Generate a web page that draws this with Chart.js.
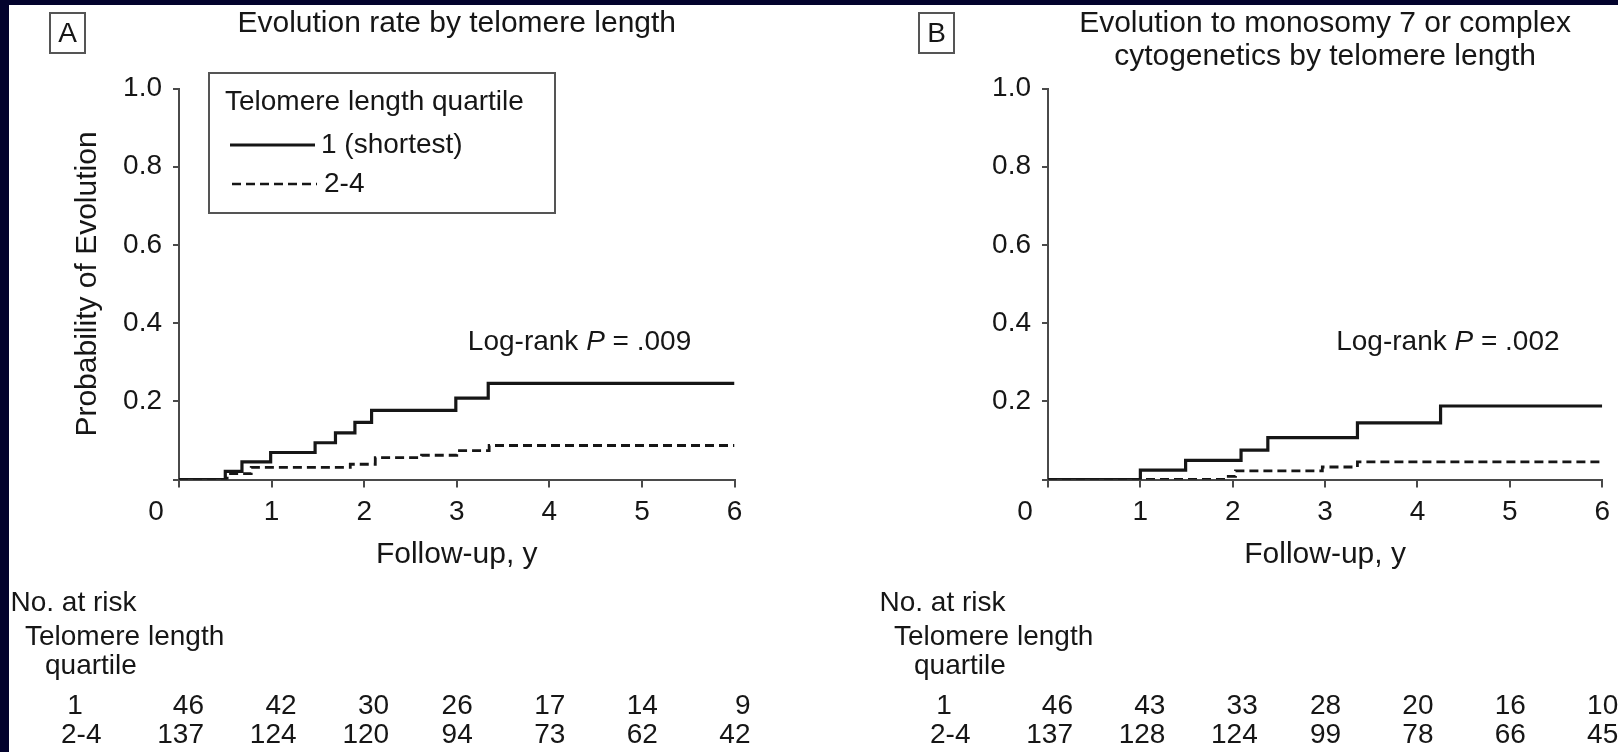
<!DOCTYPE html>
<html>
<head>
<meta charset="utf-8">
<script src="https://cdn.jsdelivr.net/npm/chart.js@4.4.1/dist/chart.umd.min.js"></script>
<style>
  html, body { margin: 0; padding: 0; width: 1618px; height: 752px; overflow: hidden; background: #03032d; }
  #sheet { position: absolute; left: 9px; top: 5px; width: 1609px; height: 747px; background: #fff; overflow: hidden; }
  canvas { position: absolute; top: 0; }
  #panelA { left: 0; }
  #panelB { left: 869px; }
</style>
</head>
<body>
<div id="sheet">
  <canvas id="panelA" width="869" height="747"></canvas>
  <canvas id="panelB" width="740" height="747"></canvas>
</div>
<script>
// cumulative probability of evolution, read at each step of the curves
const evoShortTimes = [0, 0.50, 0.68, 0.99, 1.47, 1.69, 1.90, 2.08, 2.99, 3.34, 6];
const evoShortProb  = [0, 0.021, 0.045, 0.069, 0.094, 0.119, 0.146, 0.177, 0.208, 0.246, 0.246];
const evoLongTimes  = [0, 0.52, 0.78, 1.85, 2.12, 2.62, 3.00, 3.35, 6];
const evoLongProb   = [0, 0.015, 0.031, 0.039, 0.056, 0.062, 0.074, 0.087, 0.087];

const monoShortTimes = [0, 1.00, 1.49, 2.09, 2.38, 3.35, 4.25, 6];
const monoShortProb  = [0, 0.024, 0.049, 0.075, 0.107, 0.145, 0.188, 0.188];
const monoLongTimes  = [0, 1.92, 2.03, 2.97, 3.35, 6];
const monoLongProb   = [0, 0.008, 0.022, 0.032, 0.045, 0.045];

// numbers at risk at each whole year
const riskYears     = [0, 1, 2, 3, 4, 5, 6];
const evoRiskShort  = [46, 42, 30, 26, 17, 14, 9];
const evoRiskLong   = [137, 124, 120, 94, 73, 62, 42];
const monoRiskShort = [46, 43, 33, 28, 20, 16, 10];
const monoRiskLong  = [137, 128, 124, 99, 78, 66, 45];

const groupLabels = ['1 (shortest)', '2-4'];

const FONT = '"Liberation Sans", Arial, Helvetica, sans-serif';
const INK = '#161616';
const AXIS = '#4a4a4a';

Chart.defaults.font.family = FONT;
Chart.defaults.color = INK;

function font(size, style) {
  return (style ? style + ' ' : '') + size + 'px ' + FONT;
}

// panel letter, titles, p-value, legend and the at-risk table
const panelDecor = {
  id: 'panelDecor',
  afterDraw(chart, args, opts) {
    const { ctx, chartArea: ca, scales: { x, y } } = chart;
    ctx.save();
    ctx.fillStyle = INK;
    ctx.strokeStyle = '#555';
    ctx.lineWidth = 2;
    ctx.textBaseline = 'middle';

    ctx.strokeRect(ca.left - 129, 8, 35, 40);
    ctx.font = font(28);
    ctx.textAlign = 'center';
    ctx.fillText(opts.letter, ca.left - 111.5, 29);

    ctx.font = font(30);
    const cx = (ca.left + ca.right) / 2;
    opts.title.forEach((line, i) => ctx.fillText(line, cx, 19 + i * 33));

    ctx.font = font(28);
    ctx.fillText('0', x.getPixelForValue(0) - 23, 507);

    // Log-rank P = ...
    ctx.textAlign = 'left';
    let lx = x.getPixelForValue(3.12);
    const ly = y.getPixelForValue(0.35);
    const parts = [['Log-rank ', ''], ['P', 'italic'], [' = ' + opts.pValue, '']];
    parts.forEach(([txt, st]) => {
      ctx.font = font(28, st);
      ctx.fillText(txt, lx, ly);
      lx += ctx.measureText(txt).width;
    });

    if (opts.legend) {
      ctx.font = font(28);
      ctx.strokeRect(ca.left + 30, 68, 346, 140);
      ctx.fillText('Telomere length quartile', ca.left + 46, 97);
      ctx.strokeStyle = INK;
      ctx.lineWidth = 2.8;
      ctx.beginPath();
      ctx.moveTo(ca.left + 51, 140);
      ctx.lineTo(ca.left + 136, 140);
      ctx.stroke();
      ctx.fillText(groupLabels[0], ca.left + 142, 140);
      ctx.lineWidth = 2.4;
      ctx.setLineDash([9, 5]);
      ctx.beginPath();
      ctx.moveTo(ca.left + 53, 179);
      ctx.lineTo(ca.left + 138, 179);
      ctx.stroke();
      ctx.setLineDash([]);
      ctx.fillText(groupLabels[1], ca.left + 145, 179);
    }

    ctx.font = font(28);
    ctx.textAlign = 'left';
    ctx.fillText('No. at risk', 1.5, 598);
    ctx.fillText('Telomere length', 16, 632);
    ctx.fillText('quartile', 36, 661);
    ctx.textAlign = 'center';
    ctx.fillText('1', 66, 701);
    ctx.textAlign = 'left';
    ctx.fillText('2-4', 52, 730);
    ctx.textAlign = 'right';
    riskYears.forEach((yr, i) => {
      const px = x.getPixelForValue(yr) + (i < 3 ? 25 : 16);
      ctx.fillText(String(opts.risk[0][i]), px, 701);
      ctx.fillText(String(opts.risk[1][i]), px, 730);
    });
    ctx.restore();
  }
};

function toPoints(times, probs) {
  return times.map((t, i) => ({ x: t, y: probs[i] }));
}

function makePanel(id, cfg) {
  return new Chart(document.getElementById(id), {
    type: 'line',
    data: {
      datasets: [
        {
          label: groupLabels[0],
          data: toPoints(cfg.shortT, cfg.shortP),
          borderColor: INK, borderWidth: 3.2,
          stepped: true, pointRadius: 0, fill: false
        },
        {
          label: groupLabels[1],
          data: toPoints(cfg.longT, cfg.longP),
          borderColor: INK, borderWidth: 2.8, borderDash: [9, 5],
          stepped: true, pointRadius: 0, fill: false
        }
      ]
    },
    options: {
      responsive: false,
      animation: false,
      devicePixelRatio: 1,
      layout: { padding: { top: 83.5, left: 61, right: cfg.padRight, bottom: 179 } },
      plugins: {
        legend: { display: false },
        tooltip: { enabled: false },
        panelDecor: cfg.decor
      },
      scales: {
        x: {
          type: 'linear', min: 0, max: 6,
          afterFit: s => { s.height = 93.5; },
          grid: { display: true, drawOnChartArea: false, drawTicks: true, tickLength: 8, color: AXIS, lineWidth: 2 },
          border: { display: true, color: AXIS, width: 2 },
          ticks: {
            stepSize: 1, padding: 8, maxRotation: 0, color: INK,
            font: { size: 28 },
            callback: v => (v === 0 ? '' : String(v))
          },
          title: { display: true, text: 'Follow-up, y', color: INK, font: { size: 30 }, padding: 0 }
        },
        y: {
          min: 0, max: 1,
          afterFit: s => { s.width = 109; },
          grid: { display: true, drawOnChartArea: false, drawTicks: true, tickLength: 6, color: AXIS, lineWidth: 2 },
          border: { display: true, color: AXIS, width: 2 },
          ticks: {
            stepSize: 0.2, padding: 11, color: INK,
            font: { size: 28 },
            callback: v => (v === 0 ? '' : v.toFixed(1))
          },
          title: { display: cfg.yTitle, text: 'Probability of Evolution', color: INK, font: { size: 30 }, padding: 0 }
        }
      }
    },
    plugins: [panelDecor]
  });
}

makePanel('panelA', {
  shortT: evoShortTimes, shortP: evoShortProb,
  longT: evoLongTimes, longP: evoLongProb,
  padRight: 143.5, yTitle: true,
  decor: {
    letter: 'A',
    title: ['Evolution rate by telomere length'],
    pValue: '.009',
    legend: true,
    risk: [evoRiskShort, evoRiskLong]
  }
});

makePanel('panelB', {
  shortT: monoShortTimes, shortP: monoShortProb,
  longT: monoLongTimes, longP: monoLongProb,
  padRight: 14.5, yTitle: false,
  decor: {
    letter: 'B',
    title: ['Evolution to monosomy 7 or complex', 'cytogenetics by telomere length'],
    pValue: '.002',
    legend: false,
    risk: [monoRiskShort, monoRiskLong]
  }
});
</script>
</body>
</html>
